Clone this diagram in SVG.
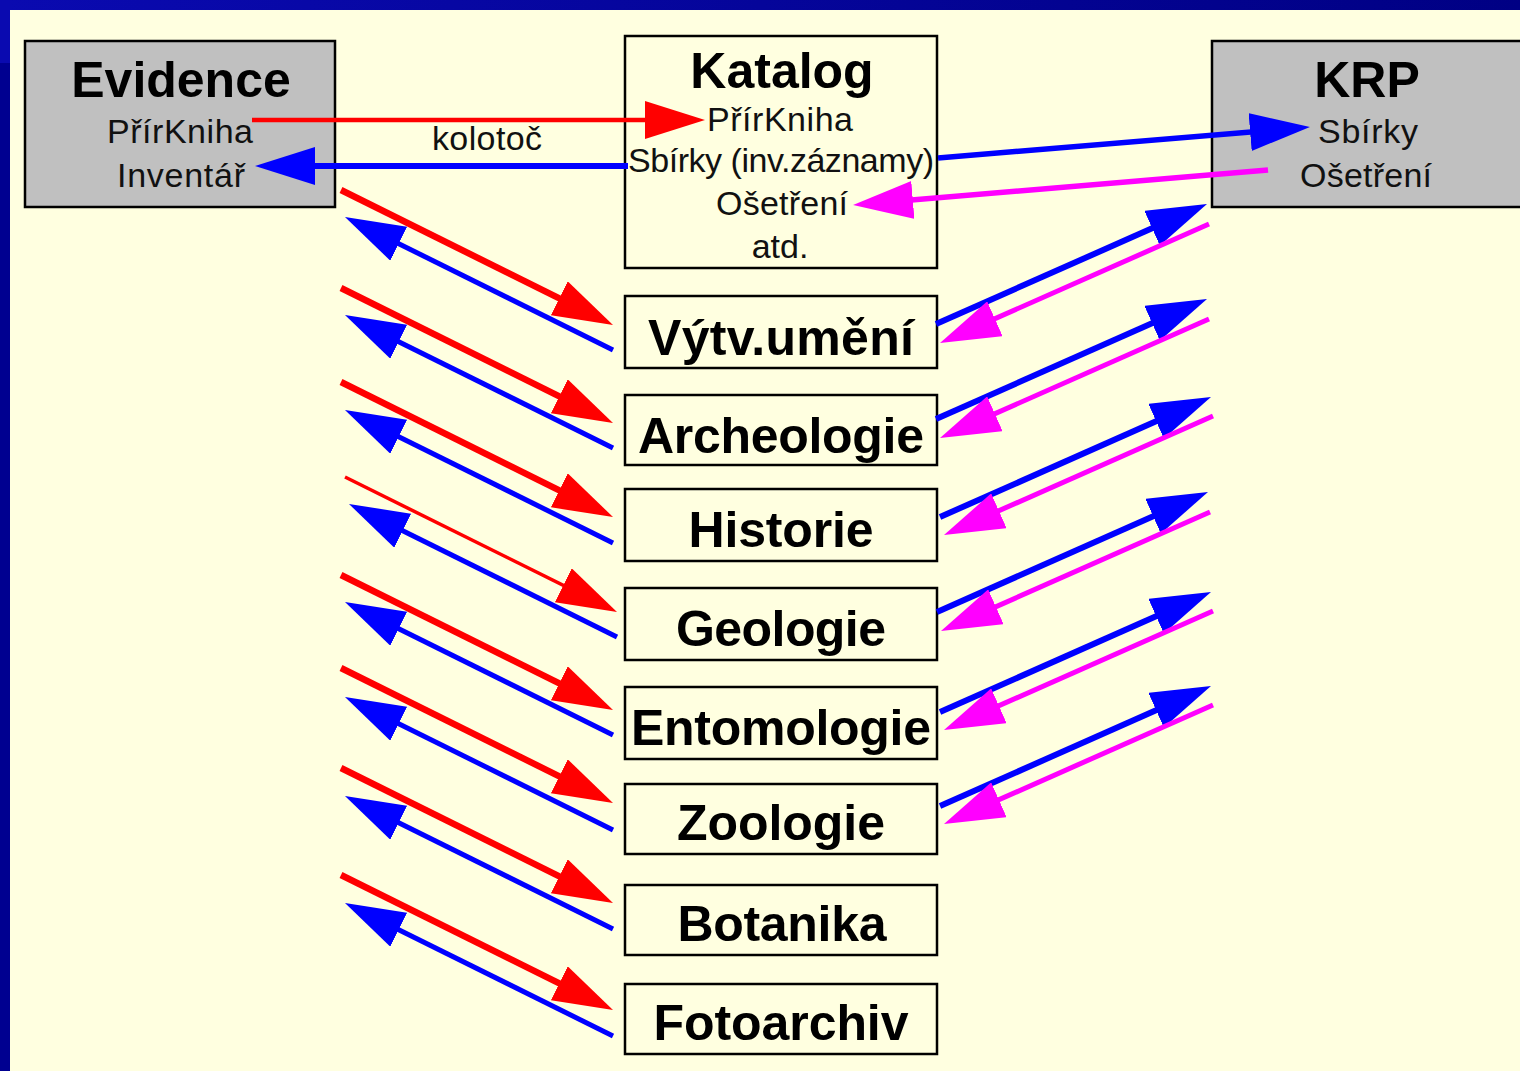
<svg xmlns="http://www.w3.org/2000/svg" width="1520" height="1071" viewBox="0 0 1520 1071">
<defs>
<linearGradient id="topband" x1="0" y1="0" x2="1" y2="0">
<stop offset="0" stop-color="#0a0ab0"/>
<stop offset="1" stop-color="#000084"/>
</linearGradient>
<marker id="hr" viewBox="0 0 60 38" markerWidth="60" markerHeight="38" refX="40" refY="19" orient="auto" markerUnits="userSpaceOnUse"><path d="M0,0 L60,19 L0,38 Z" fill="#ff0000"/></marker>
<marker id="hb" viewBox="0 0 60 38" markerWidth="60" markerHeight="38" refX="40" refY="19" orient="auto" markerUnits="userSpaceOnUse"><path d="M0,0 L60,19 L0,38 Z" fill="#0000ff"/></marker>
<marker id="hm" viewBox="0 0 60 38" markerWidth="60" markerHeight="38" refX="40" refY="19" orient="auto" markerUnits="userSpaceOnUse"><path d="M0,0 L60,19 L0,38 Z" fill="#ff00ff"/></marker>
</defs>
<style>
.box{stroke:#000;stroke-width:2.5}
.gray{fill:#c0c0c0}
.cream{fill:#ffffe0}
.title{font-family:"Liberation Sans",Arial,sans-serif;font-weight:bold;font-size:50px;fill:#000;text-anchor:middle}
.sub{font-family:"Liberation Sans",Arial,sans-serif;font-size:34px;fill:#111;text-anchor:middle}
.r{stroke:#ff0000;fill:none;marker-end:url(#hr)}
.b{stroke:#0000ff;fill:none;marker-end:url(#hb)}
.m{stroke:#ff00ff;fill:none;marker-end:url(#hm)}
</style>
<rect x="0" y="0" width="1520" height="1071" fill="#000090"/>
<rect x="0" y="0" width="1520" height="10" fill="url(#topband)"/>
<rect x="0" y="0" width="10" height="63" fill="#0a0ab0"/>
<rect x="10" y="10" width="1510" height="1061" fill="#ffffe0"/>

<g id="evidence">
<rect class="box gray" x="25" y="41" width="310" height="166"/>
<text class="title" x="181" y="97">Evidence</text>
<text class="sub" x="180" y="143" textLength="146">PřírKniha</text>
<text class="sub" x="181" y="187" textLength="128">Inventář</text>
</g>
<g id="katalog">
<rect class="box cream" x="625" y="36" width="312" height="232"/>
<text class="title" x="782" y="88">Katalog</text>
<text class="sub" x="780" y="131" textLength="146">PřírKniha</text>
<text class="sub" x="781" y="172" textLength="306">Sbírky (inv.záznamy)</text>
<text class="sub" x="782" y="215" textLength="132">Ošetření</text>
<text class="sub" x="780" y="258">atd.</text>
</g>
<g id="krp">
<rect class="box gray" x="1212" y="41" width="320" height="166"/>
<text class="title" x="1367" y="97">KRP</text>
<text class="sub" x="1368" y="143" textLength="100">Sbírky</text>
<text class="sub" x="1366" y="187" textLength="132">Ošetření</text>
</g>
<g id="vytv"><rect class="box cream" x="625" y="296" width="312" height="72"/><text class="title" x="781" y="355" textLength="266">Výtv.umění</text></g>
<g id="archeologie"><rect class="box cream" x="625" y="395" width="312" height="70"/><text class="title" x="781" y="453" textLength="286">Archeologie</text></g>
<g id="historie"><rect class="box cream" x="625" y="489" width="312" height="72"/><text class="title" x="781" y="547" textLength="185">Historie</text></g>
<g id="geologie"><rect class="box cream" x="625" y="588" width="312" height="72"/><text class="title" x="781" y="646" textLength="210">Geologie</text></g>
<g id="entomologie"><rect class="box cream" x="625" y="687" width="312" height="72"/><text class="title" x="781" y="745" textLength="300">Entomologie</text></g>
<g id="zoologie"><rect class="box cream" x="625" y="784" width="312" height="70"/><text class="title" x="781" y="840" textLength="208">Zoologie</text></g>
<g id="botanika"><rect class="box cream" x="625" y="885" width="312" height="70"/><text class="title" x="782" y="941" textLength="209">Botanika</text></g>
<g id="fotoarchiv"><rect class="box cream" x="625" y="984" width="312" height="70"/><text class="title" x="781" y="1040" textLength="255">Fotoarchiv</text></g>

<g id="connectors">
<line class="r" stroke-width="4.5" x1="252" y1="120" x2="685" y2="120"/>
<text class="sub" x="487" y="150" textLength="110">kolotoč</text>
<line class="b" stroke-width="6" x1="628" y1="166" x2="275" y2="166"/>
<line class="b" stroke-width="5.5" x1="938" y1="158" x2="1290" y2="128.7"/>
<line class="m" stroke-width="5.5" x1="1268" y1="170" x2="873" y2="203.3"/>

<line class="r" stroke-width="6.5" x1="341" y1="190" x2="595.1" y2="316.1"/>
<line class="r" stroke-width="6.5" x1="341" y1="288" x2="595.1" y2="414.1"/>
<line class="r" stroke-width="6.5" x1="341" y1="382" x2="595.1" y2="508.1"/>
<line class="r" stroke-width="3.5" x1="345" y1="477" x2="599.1" y2="603.1"/>
<line class="r" stroke-width="6.5" x1="341" y1="575" x2="595.1" y2="701.1"/>
<line class="r" stroke-width="6.5" x1="341" y1="668" x2="595.1" y2="794.1"/>
<line class="r" stroke-width="6.5" x1="341" y1="768" x2="595.1" y2="894.1"/>
<line class="r" stroke-width="6.5" x1="341" y1="875" x2="595.1" y2="1001.1"/>

<line class="b" stroke-width="5" x1="613" y1="350" x2="362.9" y2="225.9"/>
<line class="b" stroke-width="5" x1="613" y1="448" x2="362.9" y2="323.9"/>
<line class="b" stroke-width="5" x1="613" y1="543" x2="362.9" y2="418.9"/>
<line class="b" stroke-width="5" x1="617" y1="637" x2="366.9" y2="512.9"/>
<line class="b" stroke-width="5" x1="613" y1="735" x2="362.9" y2="610.9"/>
<line class="b" stroke-width="5" x1="613" y1="830" x2="362.9" y2="705.9"/>
<line class="b" stroke-width="5" x1="613" y1="929" x2="362.9" y2="804.9"/>
<line class="b" stroke-width="5" x1="613" y1="1036" x2="362.9" y2="911.9"/>

<line class="b" stroke-width="6" x1="936" y1="324" x2="1188.7" y2="212.1"/>
<line class="b" stroke-width="6" x1="936" y1="419" x2="1188.7" y2="307.1"/>
<line class="b" stroke-width="6" x1="940" y1="517" x2="1192.7" y2="405.1"/>
<line class="b" stroke-width="6" x1="937" y1="612" x2="1189.7" y2="500.1"/>
<line class="b" stroke-width="6" x1="940" y1="712" x2="1192.7" y2="600.1"/>
<line class="b" stroke-width="6" x1="940" y1="806" x2="1192.7" y2="694.1"/>

<line class="m" stroke-width="5" x1="1209" y1="224" x2="958.3" y2="334.9"/>
<line class="m" stroke-width="5" x1="1209" y1="319" x2="958.3" y2="429.9"/>
<line class="m" stroke-width="5" x1="1213" y1="416" x2="962.3" y2="526.9"/>
<line class="m" stroke-width="5" x1="1210" y1="512" x2="959.3" y2="622.9"/>
<line class="m" stroke-width="5" x1="1213" y1="611" x2="962.3" y2="721.9"/>
<line class="m" stroke-width="5" x1="1213" y1="705" x2="962.3" y2="815.9"/>
</g>
</svg>
